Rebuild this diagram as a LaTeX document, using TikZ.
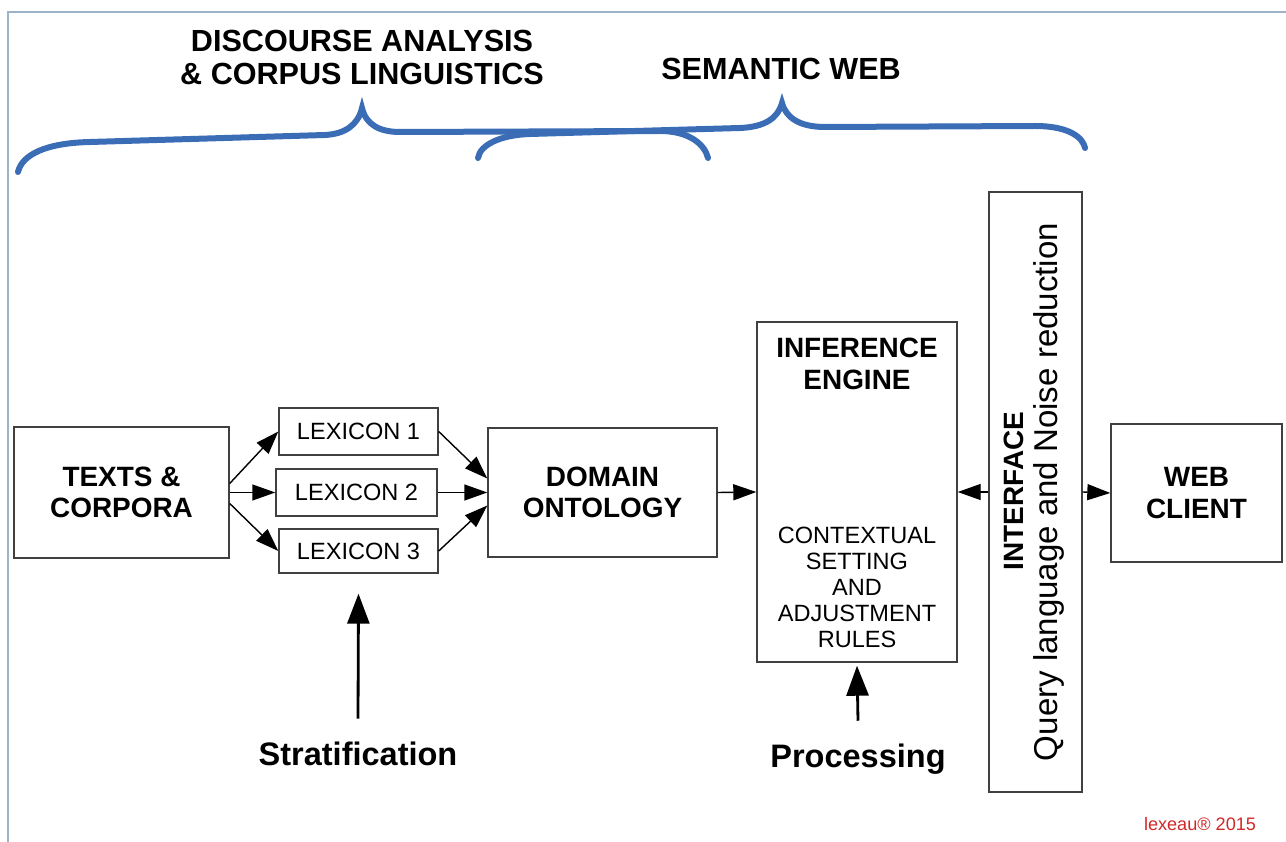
\documentclass[tikz,border=0pt]{standalone}
\usepackage{fontspec}
\setmainfont{Liberation Sans}
\usetikzlibrary{arrows.meta}

\definecolor{bracecol}{HTML}{3A6DB5}
\definecolor{framecol}{HTML}{9DB3C8}
\definecolor{markcol}{HTML}{D02828}

\tikzset{
  box/.style={draw=black!75, line width=0.8pt, inner sep=0pt, align=center},
  boldtxt/.style={font=\fontsize{15.9}{17.9}\selectfont\bfseries, align=center},
  plaintxt/.style={font=\fontsize{13.4}{14.8}\selectfont, align=center},
  headtxt/.style={font=\fontsize{17.4}{18.8}\selectfont\bfseries, align=center, inner sep=0pt},
  bigtxt/.style={font=\fontsize{18.5}{21}\selectfont\bfseries, inner sep=0pt},
  brace/.style={draw=bracecol, line width=0.12cm, line cap=round},
  bigarrow/.style={-{Triangle[length=0.6cm,width=0.44cm]}, line width=1.6pt},
}

\begin{document}
\begin{tikzpicture}[>={Triangle[length=0.46cm,width=0.32cm]}, line width=0.8pt]
\useasboundingbox (0,0) rectangle (25.72,-16.84);
\draw[framecol, line width=1.1pt] (0.16,-16.84) -- (0.16,-0.24) -- (25.72,-0.24);

% headings and braces
\node[headtxt] (discourse) at (7.24,-1.14) {DISCOURSE ANALYSIS\\\& CORPUS LINGUISTICS};
\node[headtxt] (semweb) at (15.62,-1.38) {SEMANTIC WEB};
\draw[brace] (0.36,-3.44) .. controls (0.44,-3.10) and (0.90,-2.86) .. (1.80,-2.84)
  -- (6.50,-2.70) .. controls (6.90,-2.68) and (7.16,-2.50) .. (7.24,-2.16)
  .. controls (7.32,-2.50) and (7.60,-2.64) .. (8.00,-2.64)
  -- (13.20,-2.62) .. controls (13.80,-2.62) and (14.10,-2.90) .. (14.16,-3.16);
\draw[brace] (9.56,-3.16) .. controls (9.60,-2.90) and (10.00,-2.70) .. (10.60,-2.68)
  -- (14.80,-2.56) .. controls (15.30,-2.54) and (15.56,-2.36) .. (15.64,-2.06)
  .. controls (15.72,-2.36) and (16.00,-2.54) .. (16.50,-2.54)
  -- (20.70,-2.52) .. controls (21.40,-2.52) and (21.66,-2.76) .. (21.70,-2.96);

% boxes
\node[box, boldtxt, minimum width=4.3cm, minimum height=2.62cm] (texts) at (2.43,-9.85) {TEXTS \&\\CORPORA};
\node[box, plaintxt, minimum width=3.18cm, minimum height=0.94cm] (lex1) at (7.17,-8.63) {LEXICON 1};
\node[box, plaintxt, minimum width=3.22cm, minimum height=0.94cm] (lex2) at (7.13,-9.85) {LEXICON 2};
\node[box, plaintxt, minimum width=3.18cm, minimum height=0.88cm] (lex3) at (7.17,-11.02) {LEXICON 3};
\node[box, boldtxt, minimum width=4.58cm, minimum height=2.58cm] (dom) at (12.05,-9.85) {DOMAIN\\ONTOLOGY};
\node[box, minimum width=4.0cm, minimum height=6.8cm] (inf) at (17.14,-9.84) {};
\node[boldtxt, font=\fontsize{15.9}{18.2}\selectfont\bfseries] (inftitle) at (17.14,-7.28) {INFERENCE\\ENGINE};
\node[plaintxt] (infrules) at (17.14,-11.75) {CONTEXTUAL\\SETTING\\AND\\ADJUSTMENT\\RULES};
\node[box, minimum width=1.86cm, minimum height=12cm] (iface) at (20.71,-9.84) {};
\node[boldtxt, rotate=90] (ifacetitle) at (20.28,-9.82) {INTERFACE};
\node[font=\fontsize{18.8}{21}\selectfont, rotate=90] (ifacequery) at (20.97,-9.84) {Query language and Noise reduction};
\node[box, boldtxt, minimum width=3.42cm, minimum height=2.76cm] (web) at (23.93,-9.86) {WEB\\CLIENT};

% bottom labels
\node[bigtxt, anchor=base] (strat) at (7.16,-15.30) {Stratification};
\node[bigtxt, anchor=base] (proc) at (17.16,-15.34) {Processing};
\node[markcol, font=\fontsize{10.3}{12}\selectfont] (mark) at (24.0,-16.48) {lexeau\textregistered{} 2015};

% connectors
\draw[->] ([yshift=0.18cm]texts.east) -- (lex1.west);
\draw[->] (texts.east) -- (lex2.west);
\draw[->] ([yshift=-0.22cm]texts.east) -- (lex3.west);
\draw[->] (lex1.east) -- ([yshift=0.28cm]dom.west);
\draw[->] (lex2.east) -- (dom.west);
\draw[->] (lex3.east) -- ([yshift=-0.26cm]dom.west);
\draw[->] (dom.east) -- (inf.west);
\draw[->] (iface.west) -- (inf.east);
\draw[->] (iface.east) -- (web.west);
\draw[bigarrow] ([yshift=0.44cm]strat.north) -- ([yshift=-0.4cm]lex3.south);
\draw[bigarrow] ([yshift=0.44cm]proc.north) -- ([yshift=-0.06cm]inf.south);
\end{tikzpicture}
\end{document}
